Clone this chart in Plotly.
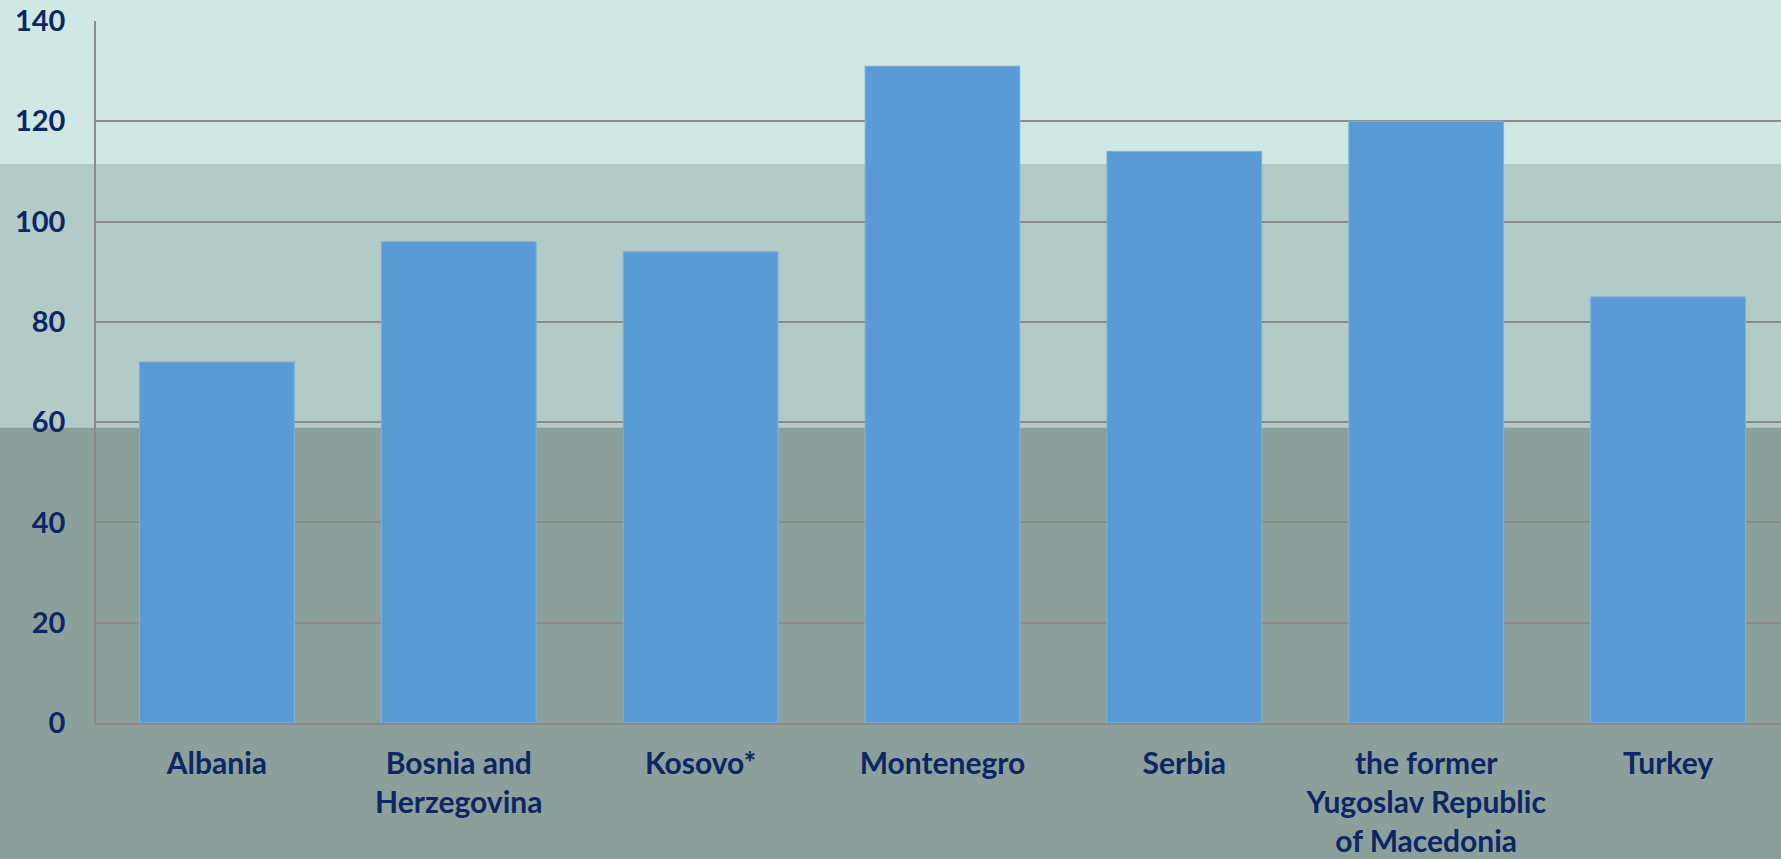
import plotly.graph_objects as go

categories = ["Albania", "Bosnia and<br>Herzegovina", "Kosovo*", "Montenegro", "Serbia",
              "the former<br>Yugoslav Republic<br>of Macedonia", "Turkey"]
values = [72, 96, 94, 131, 114, 120, 85]
y_ticks = [0, 20, 40, 60, 80, 100, 120, 140]

TEXT = "#0D2766"
FONT = "Lato, 'Open Sans', sans-serif"

fig = go.Figure()
fig.add_trace(go.Bar(
    x=list(range(len(categories))), y=values,
    marker=dict(color="#5B9BD5", line=dict(color="#7FB0DC", width=1)),
    hoverinfo="skip",
))

# background bands (paper coords)
bands = [
    (-0.2, 0.4205, "#8BA09A"),
    (0.4205, 0.796, "#B3CBC7"),
    (0.796, 1.2, "#D0E8E3"),
]
shapes = []
for y0, y1, c in bands:
    shapes.append(dict(type="rect", xref="paper", yref="paper", x0=-0.2, x1=1.2,
                       y0=y0, y1=y1, fillcolor=c, line=dict(width=0), layer="below"))

fig.update_layout(
    width=1781, height=859,
    margin=dict(l=96, r=0, t=21, b=136),
    paper_bgcolor="#8BA09A",
    plot_bgcolor="rgba(0,0,0,0)",
    shapes=shapes,
    bargap=0.36,
    showlegend=False,
    font=dict(family=FONT, color=TEXT, size=29),
    xaxis=dict(
        tickmode="array", tickvals=list(range(len(categories))), ticktext=categories,
        range=[-0.5, 6.467], showgrid=False, zeroline=False,
        showline=True, linecolor="#8E8A8A", linewidth=1.5,
        ticks="", ticklabelstandoff=13,
        tickfont=dict(family=FONT, size=30, color=TEXT, weight="bold"),
    ),
    yaxis=dict(
        range=[0, 140], tickmode="array", tickvals=y_ticks,
        showgrid=True, gridcolor="#8A8A8A", gridwidth=1.5,
        zeroline=False, showline=True, linecolor="#8A8A8A", linewidth=1.5,
        ticks="", ticklabelstandoff=23,
        tickfont=dict(family=FONT, size=29, color=TEXT, weight="bold"),
    ),
)

fig.write_html("out.html", config={"displayModeBar": False},
               post_script="document.body.style.margin='0px';")
